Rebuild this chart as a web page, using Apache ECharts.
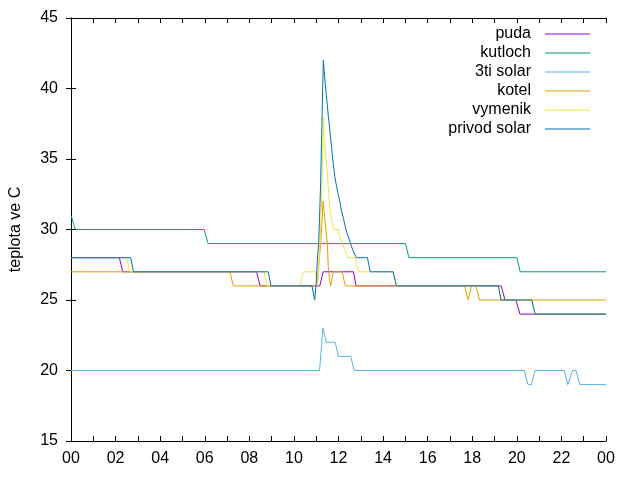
<!DOCTYPE html>
<html>
<head>
<meta charset="utf-8">
<script src="https://cdn.jsdelivr.net/npm/echarts@6/dist/echarts.min.js"></script>
<style>
  html, body { margin: 0; padding: 0; background: #fff; }
  #chart { width: 640px; height: 480px; }
</style>
</head>
<body>
<div id="chart"></div>
<script>
// hodiny dne -> popisky osy x
var hourLabels = ['00', '02', '04', '06', '08', '10', '12', '14', '16', '18', '20', '22', '00'];
var yTicks = [15, 20, 25, 30, 35, 40, 45];

// [hodina, teplota]
var puda = [
    [0, 28], [2.17, 28], [2.32, 27], [8.33, 27], [8.48, 26], [11.16, 26], [11.31, 27],
    [12.67, 27], [12.79, 26], [19.3, 26], [19.47, 25], [19.96, 25], [20.14, 24], [24, 24]
];
var kutloch = [
    [0, 31], [0.2, 30], [5.97, 30], [6.15, 29], [15.0, 29], [15.16, 28],
    [20.0, 28], [20.15, 27], [24, 27]
];
var tretiSolar = [
    [0, 20], [11.15, 20], [11.3, 23], [11.45, 22], [11.85, 22], [12.0, 21], [12.55, 21],
    [12.7, 20], [20.33, 20], [20.5, 19], [20.65, 19], [20.82, 20], [22.13, 20], [22.29, 19],
    [22.5, 20], [22.66, 20], [22.82, 19], [24, 19]
];
var kotel = [
    [0, 27], [7.13, 27], [7.28, 26], [11.04, 26], [11.2, 29], [11.31, 32], [11.42, 30.2],
    [11.5, 29], [11.54, 27.4], [11.6, 26.4], [11.65, 26], [11.77, 27], [12.17, 27], [12.3, 26],
    [17.65, 26], [17.82, 25], [17.97, 26], [18.17, 26], [18.32, 25], [24, 25]
];
var vymenik = [
    [0, 28], [2.5, 28], [2.65, 27], [8.66, 27], [8.78, 26], [10.27, 26], [10.42, 27],
    [10.98, 27], [11.06, 26], [11.17, 29], [11.22, 31], [11.26, 33.3], [11.32, 38],
    [11.36, 36.3], [11.41, 35.5], [11.45, 34.8], [11.5, 34], [11.52, 33.5], [11.56, 32.6],
    [11.63, 31.3], [11.72, 30.4], [11.8, 30], [11.98, 30], [12.07, 29.4], [12.2, 28.9],
    [12.3, 28.5], [12.44, 28], [12.74, 28], [12.82, 27.5], [12.92, 27], [14.45, 27],
    [14.6, 26], [19.17, 26], [19.29, 25], [20.67, 25], [20.82, 24], [24, 24]
];
var privodSolar = [
    [0, 28], [2.68, 28], [2.8, 27], [8.85, 27], [8.97, 26], [10.81, 26], [10.93, 25],
    [11.0, 26.2], [11.05, 27.8], [11.11, 29], [11.15, 30.9], [11.2, 33.3], [11.24, 36.3],
    [11.28, 39.2], [11.32, 42], [11.36, 41.2], [11.41, 40.3], [11.45, 39.6], [11.5, 38.8],
    [11.54, 38.1], [11.59, 37.4], [11.63, 36.7], [11.68, 36], [11.72, 35.3], [11.77, 34.6],
    [11.84, 33.7], [11.92, 33], [12.0, 32.4], [12.07, 31.9], [12.14, 31.3], [12.22, 30.8],
    [12.29, 30.3], [12.37, 29.8], [12.44, 29.5], [12.52, 29.1], [12.65, 28.5], [12.8, 28],
    [13.3, 28], [13.42, 27], [14.45, 27], [14.6, 26], [19.17, 26], [19.29, 25],
    [20.67, 25], [20.82, 24], [24, 24]
];

var font = 'Liberation Sans';

var chart = echarts.init(document.getElementById('chart'));

function line(name, data, color) {
    return {
        name: name,
        type: 'line',
        data: data,
        symbol: 'none',
        xAxisIndex: 0,
        yAxisIndex: 0,
        lineStyle: { color: color, width: 1 },
        itemStyle: { color: color }
    };
}

var tickStyle = { show: true, inside: true, length: 5, lineStyle: { color: '#000' } };
var lineAxis = { show: true, lineStyle: { color: '#000', width: 1 } };

var option = {
    animation: false,
    backgroundColor: '#fff',
    grid: { left: 71, right: 34, top: 18, bottom: 39, outerBoundsMode: 'none' },
    legend: {
        orient: 'vertical',
        right: 45,
        top: 21,
        align: 'right',
        icon: 'rect',
        itemWidth: 45,
        itemHeight: 1.2,
        itemGap: 3,
        textStyle: { fontFamily: font, fontSize: 16, color: '#000', padding: [0, 9, 0, 0] },
        data: ['puda', 'kutloch', '3ti solar', 'kotel', 'vymenik', 'privod solar']
    },
    xAxis: [{
        type: 'value',
        min: 0, max: 24, interval: 1,
        axisLine: lineAxis,
        axisTick: tickStyle,
        splitLine: { show: false },
        axisLabel: {
            fontFamily: font, fontSize: 16, color: '#000', margin: 10,
            showMinLabel: true, showMaxLabel: true,
            formatter: function (v) {
                return v % 2 === 0 ? hourLabels[v / 2] : '';
            }
        }
    }, {
        type: 'value', position: 'top',
        min: 0, max: 24, interval: 1,
        axisLine: lineAxis,
        axisTick: tickStyle,
        splitLine: { show: false },
        axisLabel: { show: false }
    }],
    yAxis: [{
        type: 'value',
        min: yTicks[0], max: yTicks[yTicks.length - 1], interval: 5,
        name: 'teplota ve C',
        nameLocation: 'middle',
        nameGap: 47,
        nameTextStyle: { fontFamily: font, fontSize: 16, color: '#000' },
        axisLine: lineAxis,
        axisTick: tickStyle,
        splitLine: { show: false },
        axisLabel: { fontFamily: font, fontSize: 16, color: '#000', margin: 13 }
    }, {
        type: 'value', position: 'right',
        min: yTicks[0], max: yTicks[yTicks.length - 1], interval: 5,
        axisLine: lineAxis,
        axisTick: tickStyle,
        splitLine: { show: false },
        axisLabel: { show: false }
    }],
    series: [
        line('puda', puda, '#9400d3'),
        line('kutloch', kutloch, '#009e73'),
        line('3ti solar', tretiSolar, '#56b4e9'),
        line('kotel', kotel, '#e69f00'),
        line('vymenik', vymenik, '#f0e442'),
        line('privod solar', privodSolar, '#0072b2')
    ]
};

chart.setOption(option);
</script>
</body>
</html>
